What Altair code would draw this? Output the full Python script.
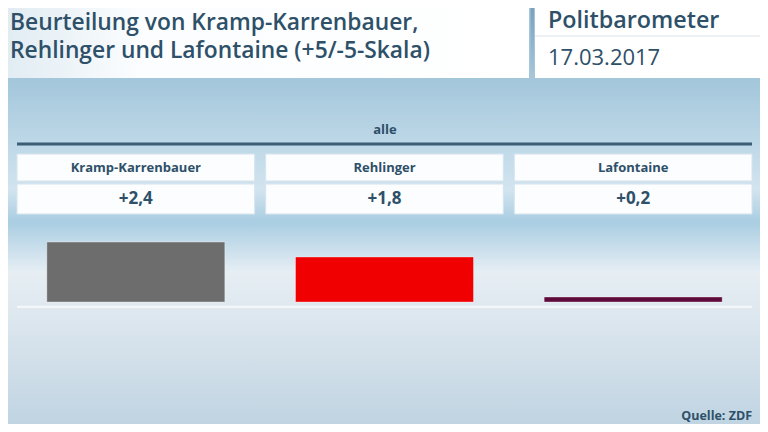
import altair as alt
import pandas as pd

# ---- data ----
names = ["Kramp-Karrenbauer", "Rehlinger", "Lafontaine"]
values = [2.4, 1.8, 0.2]
value_labels = ["+2,4", "+1,8", "+0,2"]
bar_colors = ["#6d6d6d", "#f00000", "#5e0a3b"]

title_lines = ["Beurteilung von Kramp-Karrenbauer,", "Rehlinger und Lafontaine (+5/-5-Skala)"]
brand = "Politbarometer"
date = "17.03.2017"
group_label = "alle"
source = "Quelle: ZDF"

TXT = "#2e5069"
FONT = "Open Sans"

df = pd.DataFrame({"name": names, "value": values, "label": value_labels})
one = pd.DataFrame({"k": [0]})

# whole chart = page minus the 8px body margin on each side
W, H = 752, 416

xband = alt.Scale(domain=names, range=[9, 744], paddingInner=0.0442, paddingOuter=0)
X = alt.X("name:N", scale=xband, axis=None, sort=names)

def rect(x, x2, y, y2, color, **kw):
    return alt.Chart(one).mark_rect(color=color, **kw).encode(
        x=alt.value(x), x2=alt.value(x2), y=alt.value(y), y2=alt.value(y2))

def grad(stops, vertical=True):
    return alt.LinearGradient(
        gradient="linear",
        stops=[alt.GradientStop(color=c, offset=o) for o, c in stops],
        x1=0, y1=0, x2=0 if vertical else 1, y2=1 if vertical else 0)

# background (stops in page-y terms: 78, 140, 190, 222, 272, 310, 424)
bg = rect(0, W, 0, H, grad([
    (0.0, "#a3c6db"), (0.168, "#a3c6db"), (0.317, "#bcd7e7"), (0.437, "#d2e4ef"),
    (0.514, "#a9cde2"), (0.635, "#e6eef4"), (0.726, "#dfe8ef"), (1.0, "#c0d4e2")]))

# header blocks
hdr_left = rect(0, 521, 0, 70, grad([(0, "#e1ecf3"), (0.25, "#fbfdfe"), (1, "#ffffff")], vertical=False))
sep = rect(522.5, 526, 0, 70, grad([(0, "#7ba1bb"), (1, "#a9c6d8")]))
hdr_right = rect(527, W, 0, 70, "#ffffff")
hdr_line = rect(527, W, 27.5, 28.5, "#dbe4ea")

def text(t, x, y, size, weight="normal", align="left", baseline="alphabetic"):
    return alt.Chart(pd.DataFrame({"t": [t]})).mark_text(
        font=FONT, fontSize=size, fontWeight=weight, color=TXT,
        align=align, baseline=baseline).encode(
        x=alt.value(x), y=alt.value(y), text="t:N")

t1 = text(title_lines[0], 2, 21.5, 22.8, 600)
t2 = text(title_lines[1], 2, 49.8, 22.8, 600)
t3 = text(brand, 540, 19.5, 23.3, 600)
t4 = text(date, 540, 57.3, 22, "normal")
t_alle = text(group_label, 377, 122, 13, "bold", align="center", baseline="middle")
t_src = text(source, 744, 408, 12.5, "bold", align="right", baseline="middle")

# dark line under "alle"
dark_line = rect(9, 744, 134.5, 137.5, "#3b5d76")

# boxes
base = alt.Chart(df)
box1 = base.mark_rect(color="#fbfdfe", stroke="#d6e4ee", strokeWidth=1).encode(
    x=X, y=alt.value(146), y2=alt.value(173))
box2 = base.mark_rect(color="#fbfdfe", stroke="#d6e4ee", strokeWidth=1).encode(
    x=X, y=alt.value(176), y2=alt.value(206))
name_txt = base.mark_text(font=FONT, fontSize=13, fontWeight="bold", color=TXT,
                          baseline="middle").encode(x=X, y=alt.value(160), text="name:N")
val_txt = base.mark_text(font=FONT, fontSize=17, fontWeight="bold", color=TXT,
                         baseline="middle").encode(x=X, y=alt.value(191), text="label:N")

# bars
bars = base.mark_bar(size=178, stroke="#ffffff", strokeOpacity=0.35, strokeWidth=1).encode(
    x=X,
    y=alt.Y("value:Q", scale=alt.Scale(domain=[0, 5], range=[294, 169]), axis=None),
    color=alt.Color("name:N", scale=alt.Scale(domain=names, range=bar_colors), legend=None),
)

baseline = rect(9, 744, 297.8, 300, "#f3f7fa")

chart = alt.layer(
    bg, hdr_left, sep, hdr_right, hdr_line, t1, t2, t3, t4,
    t_alle, dark_line, box1, box2, name_txt, val_txt, baseline, bars, t_src
).properties(
    width=W, height=H, padding=0,
    autosize=alt.AutoSizeParams(type="none"),
    background="#ffffff",
).configure_view(stroke=None)

chart.save("out.html", embed_options={"renderer": "svg", "actions": False})
